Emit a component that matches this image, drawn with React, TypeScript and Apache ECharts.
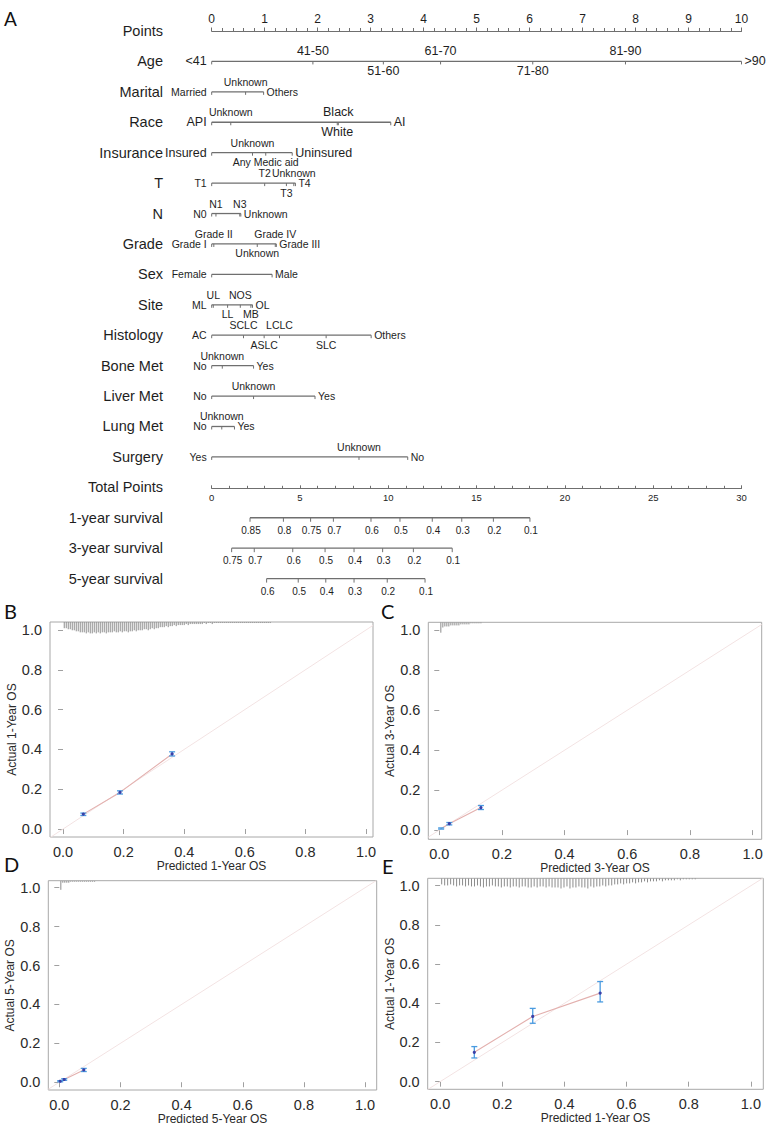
import React, { useEffect, useRef } from "react";
import * as echarts from "echarts";

// ---------------- Nomogram data ----------------
const rowNames = [
  "Points", "Age", "Marital", "Race", "Insurance", "T", "N", "Grade", "Sex", "Site",
  "Histology", "Bone Met", "Liver Met", "Lung Met", "Surgery",
  "Total Points", "1-year survival", "3-year survival", "5-year survival",
];

const ageLevels = ["<41", "41-50", "51-60", "61-70", "71-80", "81-90", ">90"];
const agePts = [0, 1.91, 3.24, 4.32, 6.06, 7.81, 10];
const maritalLevels = ["Married", "Unknown", "Others"];
const maritalPts = [0, 0.64, 0.98];
const raceLevels = ["API", "Unknown", "White", "Black", "AI"];
const racePts = [0, 0.36, 2.37, 2.39, 3.38];
const insuranceLevels = ["Insured", "Unknown", "Any Medic aid", "Uninsured"];
const insurancePts = [0, 0.77, 1.02, 1.52];
const tLevels = ["T1", "T2", "T3", "Unknown", "T4"];
const tPts = [0, 1.0, 1.41, 1.55, 1.58];
const nLevels = ["N0", "N1", "N3", "Unknown"];
const nPts = [0, 0.08, 0.53, 0.55];
const gradeLevels = ["Grade I", "Grade II", "Unknown", "Grade IV", "Grade III"];
const gradePts = [0, 0.04, 0.86, 1.2, 1.22];
const sexLevels = ["Female", "Male"];
const sexPts = [0, 1.14];
const siteLevels = ["ML", "UL", "LL", "NOS", "MB", "OL"];
const sitePts = [0, 0.03, 0.3, 0.54, 0.74, 0.77];
const histLevels = ["AC", "SCLC", "ASLC", "LCLC", "SLC", "Others"];
const histPts = [0, 0.6, 0.99, 1.28, 2.16, 3.01];
const boneLevels = ["No", "Unknown", "Yes"];
const bonePts = [0, 0.2, 0.79];
const liverLevels = ["No", "Unknown", "Yes"];
const liverPts = [0, 0.79, 1.95];
const lungLevels = ["No", "Unknown", "Yes"];
const lungPts = [0, 0.19, 0.43];
const surgeryLevels = ["Yes", "Unknown", "No"];
const surgeryPts = [0, 2.78, 3.7];

const surv1Labels = ["0.85", "0.8", "0.75", "0.7", "0.6", "0.5", "0.4", "0.3", "0.2", "0.1"];
const surv1Total = [2.17, 4.06, 5.6, 6.89, 9.02, 10.66, 12.49, 14.16, 15.95, 18.02];
const surv3Labels = ["0.75", "0.7", "0.6", "0.5", "0.4", "0.3", "0.2", "0.1"];
const surv3Total = [1.13, 2.41, 4.59, 6.42, 8.06, 9.68, 11.42, 13.62];
const surv5Labels = ["0.6", "0.5", "0.4", "0.3", "0.2", "0.1"];
const surv5Total = [3.11, 4.9, 6.46, 8.06, 9.94, 12.08];

// ---------------- Calibration data ----------------
const bPredicted = [0.067, 0.188, 0.36];
const bObserved = [0.075, 0.184, 0.377];
const bLower = [0.068, 0.176, 0.367];
const bUpper = [0.080, 0.192, 0.388];
const cPredicted = [0.006, 0.032, 0.133];
const cObserved = [0.008, 0.032, 0.113];
const cLower = [0.005, 0.026, 0.103];
const cUpper = [0.011, 0.038, 0.123];
const dPredicted = [0.003, 0.016, 0.08];
const dObserved = [0.005, 0.014, 0.063];
const dLower = [0.002, 0.010, 0.055];
const dUpper = [0.008, 0.018, 0.071];
const ePredicted = [0.11, 0.298, 0.515];
const eObserved = [0.15, 0.333, 0.452];
const eLower = [0.121, 0.298, 0.407];
const eUpper = [0.179, 0.374, 0.511];

// rug (histogram of predicted values) bin counts
const rugB = [6, 6, 7, 7, 8, 8, 9,
  9, 10, 10, 10, 11, 10, 11, 11, 10, 11, 10, 11, 10, 10, 11, 10, 10,
  10, 9, 10, 10, 9, 10, 9, 9, 10, 9, 9, 8, 9, 8, 8,
  8, 7, 7, 8, 7, 6, 7, 6, 6, 5,
  5, 5, 4, 5, 4, 4, 3, 4, 3, 3,
  3, 3, 2, 3, 2, 2, 2, 2, 2, 2,
  2, 1, 2, 1, 1, 2, 1, 1, 1, 1, 1, 1, 1, 1, 1,
  1, 1, 1, 1, 1, 1, 1, 1, 1, 1, 1, 1, 1, 1, 1, 1, 1, 1, 1, 1];
const rugC = [10, 5, 4, 4, 4, 3, 3, 3, 3, 3, 2, 2, 2, 2, 2, 1, 1, 1, 1, 1, 1];
const rugD = [9, 2, 2, 2, 2, 1, 1, 1, 1, 1, 1, 1, 1, 1, 1, 1, 1, 1];
const rugE = [6, 7, 7, 6, 7, 8, 7, 7,
  8, 7, 8, 8, 7, 8, 9, 8, 8, 7, 8, 8, 9, 8,
  8, 9, 8, 8, 9, 8, 8, 9, 9, 8, 9, 8, 8, 9, 8, 9,
  9, 9, 10, 9, 8, 10, 9, 9, 8, 9,
  9, 10, 8, 9, 8, 8, 7, 8, 7, 7,
  6, 6, 5, 6, 5, 5, 4, 5, 4, 4,
  3, 4, 3, 3, 3, 2, 3, 2, 2, 2,
  2, 1, 2, 1, 1, 1, 1, 1];
const rugBins = { B: [0.004, 0.0066], C: [0.005, 0.0064], D: [0.005, 0.0065], E: [0.005, 0.0096] };

const calTicks = [0, 0.2, 0.4, 0.6, 0.8, 1.0];

// ---------------- Layout / style ----------------
const FONT = "'Liberation Sans', Arial, Helvetica, sans-serif";
const TXT = "#1e1e1e";
const LINE = "#6f6f6f";

const variables = [
  { row: 1, levels: ageLevels, pts: agePts, sides: "LTBTBTR", big: ageLevels },
  { row: 2, levels: maritalLevels, pts: maritalPts, sides: "LTR", big: [] as string[] },
  { row: 3, levels: raceLevels, pts: racePts, sides: "LTBTR", big: ["API", "White", "Black", "AI"] },
  { row: 4, levels: insuranceLevels, pts: insurancePts, sides: "LTBR", big: ["Insured", "Uninsured"] },
  { row: 5, levels: tLevels, pts: tPts, sides: "LTBTR", big: [] },
  { row: 6, levels: nLevels, pts: nPts, sides: "LTTR", big: [] },
  { row: 7, levels: gradeLevels, pts: gradePts, sides: "LTBTR", big: [] },
  { row: 8, levels: sexLevels, pts: sexPts, sides: "LR", big: [] },
  { row: 9, levels: siteLevels, pts: sitePts, sides: "LTBTBR", big: [] },
  { row: 10, levels: histLevels, pts: histPts, sides: "LTBTBR", big: [] },
  { row: 11, levels: boneLevels, pts: bonePts, sides: "LTR", big: [] },
  { row: 12, levels: liverLevels, pts: liverPts, sides: "LTR", big: [] },
  { row: 13, levels: lungLevels, pts: lungPts, sides: "LTR", big: [] },
  { row: 14, levels: surgeryLevels, pts: surgeryPts, sides: "LTR", big: [] },
];

const survRows = [
  { row: 16, labels: surv1Labels, total: surv1Total },
  { row: 17, labels: surv3Labels, total: surv3Total },
  { row: 18, labels: surv5Labels, total: surv5Total },
];

function renderVariable(params: any, api: any) {
  const v = variables[params.dataIndex];
  const start = api.coord([0, v.row]);
  const end = api.coord([v.pts[v.pts.length - 1], v.row]);
  const y = start[1];
  const children: any[] = [
    { type: "line", shape: { x1: start[0], y1: y, x2: end[0], y2: y }, style: { stroke: LINE, lineWidth: 1.3 } },
  ];
  v.pts.forEach((p: number, k: number) => {
    const x = api.coord([p, v.row])[0];
    children.push({ type: "line", shape: { x1: x, y1: y, x2: x, y2: y + 3 }, style: { stroke: LINE, lineWidth: 1 } });
    const side = v.sides[k];
    const fs = v.big.indexOf(v.levels[k]) >= 0 ? 12.5 : 10.5;
    let tx = x;
    let ty = y;
    let align = "center";
    if (side === "L") { tx = start[0] - 5; align = "right"; }
    else if (side === "R") { tx = end[0] + 3; align = "left"; }
    else if (side === "T") { ty = y - 10; }
    else { ty = y + 9.5; }
    children.push({
      type: "text",
      style: { text: v.levels[k], x: tx, y: ty, align, verticalAlign: "middle", fontSize: fs, fontFamily: FONT, fill: TXT },
    });
  });
  return { type: "group", children };
}

function renderSurvival(params: any, api: any) {
  const s = survRows[params.dataIndex];
  const start = api.coord([s.total[0], s.row]);
  const end = api.coord([s.total[s.total.length - 1], s.row]);
  const y = start[1];
  const children: any[] = [
    { type: "line", shape: { x1: start[0], y1: y, x2: end[0], y2: y }, style: { stroke: LINE, lineWidth: 1.3 } },
  ];
  s.total.forEach((t: number, k: number) => {
    const x = api.coord([t, s.row])[0];
    children.push({ type: "line", shape: { x1: x, y1: y, x2: x, y2: y + 4 }, style: { stroke: LINE, lineWidth: 1 } });
    children.push({
      type: "text",
      style: { text: s.labels[k], x: x + 1, y: y + 12.5, align: "center", verticalAlign: "middle", fontSize: 10, fontFamily: FONT, fill: TXT },
    });
  });
  return { type: "group", children };
}

type Cal = {
  grid: { left: number; top: number; width: number; height: number };
  xr: [number, number];
  yr: [number, number];
  pred: number[]; obs: number[]; lo: number[]; hi: number[];
  rug: number[]; bins: number[];
  xTitle: string; yTitle: string;
  yGap: number; xGap: number;
};

const cals: Cal[] = [
  { grid: { left: 50, top: 622, width: 323, height: 215 }, xr: [-0.043, 1.023], yr: [-0.04, 1.04],
    pred: bPredicted, obs: bObserved, lo: bLower, hi: bUpper, rug: rugB, bins: rugBins.B,
    xTitle: "Predicted 1-Year OS", yTitle: "Actual 1-Year OS", yGap: 32, xGap: 22 },
  { grid: { left: 428.3, top: 622.3, width: 333.4, height: 217 }, xr: [-0.035, 1.029], yr: [-0.046, 1.04],
    pred: cPredicted, obs: cObserved, lo: cLower, hi: cUpper, rug: rugC, bins: rugBins.C,
    xTitle: "Predicted 3-Year OS", yTitle: "Actual 3-Year OS", yGap: 30.5, xGap: 20 },
  { grid: { left: 48.3, top: 880.7, width: 328.4, height: 209.3 }, xr: [-0.036, 1.038], yr: [-0.04, 1.036],
    pred: dPredicted, obs: dObserved, lo: dLower, hi: dUpper, rug: rugD, bins: rugBins.D,
    xTitle: "Predicted 5-Year OS", yTitle: "Actual 5-Year OS", yGap: 31, xGap: 21 },
  { grid: { left: 427.7, top: 878.3, width: 335.6, height: 211 }, xr: [-0.04, 1.04], yr: [-0.039, 1.038],
    pred: ePredicted, obs: eObserved, lo: eLower, hi: eUpper, rug: rugE, bins: rugBins.E,
    xTitle: "Predicted 1-Year OS", yTitle: "Actual 1-Year OS", yGap: 31, xGap: 21.5 },
];

function buildOption() {
  const grids: any[] = [
    { left: 211.7, width: 529.8, top: 31, height: 547.6, containLabel: false },
    { left: 211.7, width: 529.8, top: 487.3, height: 1, containLabel: false },
  ];
  const xAxes: any[] = [
    {
      gridIndex: 0, type: "value", position: "top", min: 0, max: 10, interval: 1,
      axisLine: { show: true, lineStyle: { color: LINE, width: 1.2 } },
      axisTick: { show: true, length: 3.5, lineStyle: { color: LINE } },
      minorTick: { show: true, splitNumber: 5, length: 3, lineStyle: { color: LINE } },
      axisLabel: { fontSize: 12, color: TXT, fontFamily: FONT, margin: 6 },
      splitLine: { show: false },
    },
    { gridIndex: 0, type: "value", position: "bottom", min: 0, max: 30, show: false },
    {
      gridIndex: 1, type: "value", position: "top", min: 0, max: 30, interval: 5,
      axisLine: { show: true, lineStyle: { color: LINE, width: 1.2 } },
      axisTick: { show: true, length: 3, inside: false, lineStyle: { color: LINE } },
      minorTick: { show: true, splitNumber: 5, length: 2.5, lineStyle: { color: LINE } },
      axisLabel: { inside: true, fontSize: 9.5, color: TXT, fontFamily: FONT, margin: 5 },
      splitLine: { show: false },
    },
  ];
  const yAxes: any[] = [
    {
      gridIndex: 0, type: "value", min: 0, max: 18, interval: 1, inverse: true,
      axisLine: { show: false }, axisTick: { show: false }, splitLine: { show: false },
      axisLabel: {
        formatter: (v: number) => rowNames[Math.round(v)] ?? "",
        fontSize: 14.5, color: TXT, fontFamily: FONT, margin: 48.7, padding: [0, 0, 4, 0],
      },
    },
    { gridIndex: 1, type: "value", min: 0, max: 1, show: false },
  ];
  const series: any[] = [
    {
      type: "custom", xAxisIndex: 0, yAxisIndex: 0, silent: true, clip: false,
      data: variables.map((v) => [v.pts[v.pts.length - 1], v.row]),
      encode: { x: 0, y: 1 },
      renderItem: renderVariable,
    },
    {
      type: "custom", xAxisIndex: 1, yAxisIndex: 0, silent: true, clip: false,
      data: survRows.map((s) => [s.total[s.total.length - 1], s.row]),
      encode: { x: 0, y: 1 },
      renderItem: renderSurvival,
    },
  ];

  cals.forEach((c) => {
    const gi = grids.length;
    grids.push({ ...c.grid, show: true, borderColor: "#a8a8a8", borderWidth: 1, backgroundColor: "transparent" });
    const xi = xAxes.length;
    const yi = yAxes.length;
    xAxes.push({
      gridIndex: gi, type: "value", min: c.xr[0], max: c.xr[1],
      axisLine: { show: false },
      axisTick: { show: true, length: 5, lineStyle: { color: "#a0a0a0" }, customValues: calTicks },
      axisLabel: { customValues: calTicks, formatter: (v: number) => v.toFixed(1), fontSize: 14.5, color: "#2a2a2a", fontFamily: FONT, margin: 7 },
      splitLine: { show: false },
      name: c.xTitle, nameLocation: "middle", nameGap: c.xGap,
      nameTextStyle: { fontSize: 12, color: "#2a2a2a", fontFamily: FONT },
    });
    yAxes.push({
      gridIndex: gi, type: "value", min: c.yr[0], max: c.yr[1],
      axisLine: { show: false },
      axisTick: { show: true, length: 5, lineStyle: { color: "#a0a0a0" }, customValues: calTicks },
      axisLabel: { customValues: calTicks, formatter: (v: number) => v.toFixed(1), fontSize: 14.5, color: "#2a2a2a", fontFamily: FONT, margin: 8 },
      splitLine: { show: false },
      name: c.yTitle, nameLocation: "middle", nameGap: c.yGap, nameRotate: 90,
      nameTextStyle: { fontSize: 12, color: "#2a2a2a", fontFamily: FONT },
    });
    const yTop = c.yr[1];
    // rug
    series.push({
      type: "custom", xAxisIndex: xi, yAxisIndex: yi, silent: true, clip: true, z: 1,
      data: c.rug.map((cnt, k) => [c.bins[0] + k * c.bins[1], cnt]),
      encode: { x: 0, y: 1 },
      renderItem: (params: any, api: any) => {
        const x = api.value(0);
        const h = api.value(1) * 0.0052;
        const p1 = api.coord([x, yTop]);
        const p2 = api.coord([x, yTop - h]);
        return { type: "line", shape: { x1: p1[0], y1: p1[1], x2: p2[0], y2: p2[1] }, style: { stroke: "#8c8c8c", lineWidth: 1 } };
      },
    });
    // ideal line
    series.push({
      type: "line", xAxisIndex: xi, yAxisIndex: yi, silent: true, clip: true, symbol: "none", z: 2,
      data: [[c.xr[0], c.xr[0]], [Math.min(c.xr[1], c.yr[1]), Math.min(c.xr[1], c.yr[1])]],
      lineStyle: { color: "#f3e3e3", width: 1 },
    });
    // calibration line
    series.push({
      type: "line", xAxisIndex: xi, yAxisIndex: yi, silent: true, symbol: "none", z: 3,
      data: c.pred.map((p, k) => [p, c.obs[k]]),
      lineStyle: { color: "#e3b0ae", width: 1.1 },
    });
    // error bars + points
    series.push({
      type: "custom", xAxisIndex: xi, yAxisIndex: yi, silent: true, z: 4,
      data: c.pred.map((p, k) => [p, c.obs[k], c.lo[k], c.hi[k]]),
      encode: { x: 0, y: [1, 2, 3] },
      renderItem: (params: any, api: any) => {
        const x = api.value(0);
        const pc = api.coord([x, api.value(1)]);
        const pl = api.coord([x, api.value(2)]);
        const ph = api.coord([x, api.value(3)]);
        const col = "#4a9be0";
        return {
          type: "group",
          children: [
            { type: "line", shape: { x1: pl[0], y1: pl[1], x2: ph[0], y2: ph[1] }, style: { stroke: col, lineWidth: 1.3 } },
            { type: "line", shape: { x1: pl[0] - 3, y1: pl[1], x2: pl[0] + 3, y2: pl[1] }, style: { stroke: col, lineWidth: 1.3 } },
            { type: "line", shape: { x1: ph[0] - 3, y1: ph[1], x2: ph[0] + 3, y2: ph[1] }, style: { stroke: col, lineWidth: 1.3 } },
            { type: "circle", shape: { cx: pc[0], cy: pc[1], r: 1.6 }, style: { fill: "#3a40a8" } },
          ],
        };
      },
    });
  });

  const panelFont = "Lato, 'Open Sans', sans-serif";
  const graphic = [
    { type: "text", x: 4, y: 18, style: { text: "A", fontSize: 19, fontFamily: panelFont, fill: "#111", verticalAlign: "middle" } },
    { type: "text", x: 4, y: 611, style: { text: "B", fontSize: 20, fontFamily: panelFont, fill: "#111", verticalAlign: "middle" } },
    { type: "text", x: 381, y: 611, style: { text: "C", fontSize: 20, fontFamily: panelFont, fill: "#111", verticalAlign: "middle" } },
    { type: "text", x: 4, y: 864, style: { text: "D", fontSize: 20, fontFamily: panelFont, fill: "#111", verticalAlign: "middle" } },
    { type: "text", x: 382, y: 866, style: { text: "E", fontSize: 20, fontFamily: panelFont, fill: "#111", verticalAlign: "middle" } },
  ];

  return {
    animation: false,
    backgroundColor: "#ffffff",
    grid: grids,
    xAxis: xAxes,
    yAxis: yAxes,
    series,
    graphic,
  };
}

export default function App() {
  const ref = useRef<HTMLDivElement>(null);
  useEffect(() => {
    if (!ref.current) return;
    const chart = echarts.init(ref.current, undefined, { renderer: "svg" });
    chart.setOption(buildOption() as any);
    return () => chart.dispose();
  }, []);
  return (
    <div
      ref={ref}
      style={{ position: "absolute", left: 0, top: 0, width: 773, height: 1127, background: "#fff" }}
    />
  );
}
